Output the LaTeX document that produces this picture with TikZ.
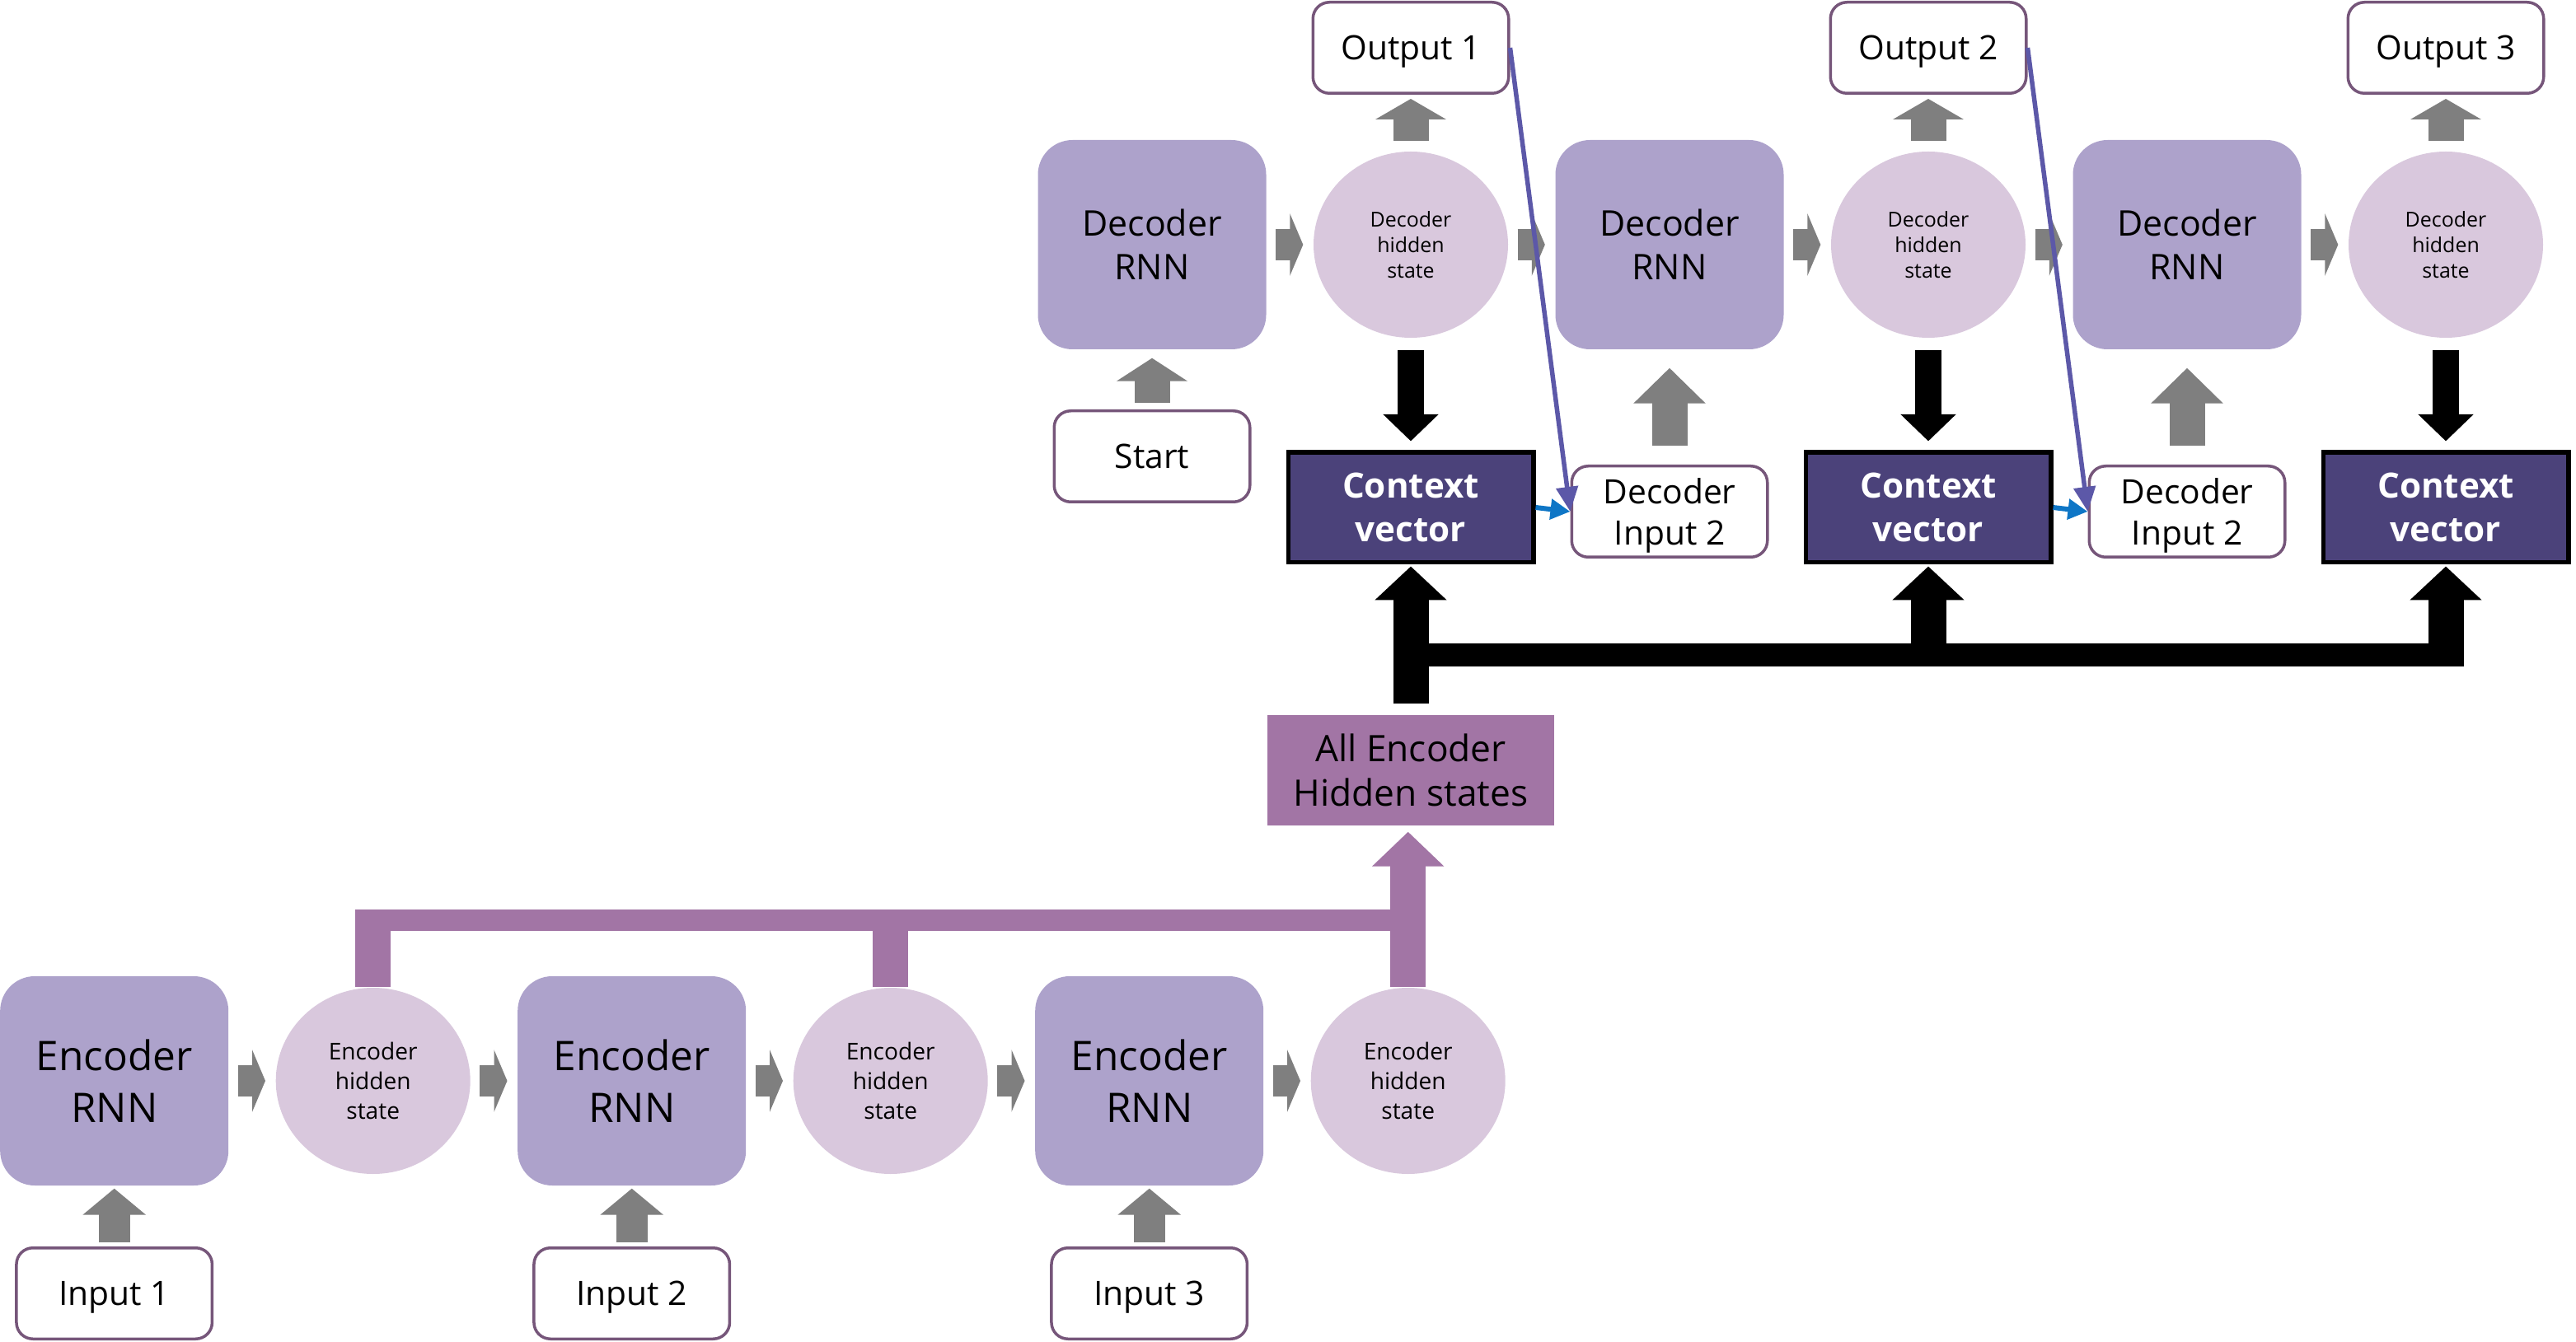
\documentclass[tikz,border=0pt]{standalone}
\usepackage{fontspec}
\setmainfont{Open Sans}
\usetikzlibrary{positioning, arrows.meta, shapes.geometric}
\usepackage{xcolor}

\definecolor{rnnfill}{RGB}{173,162,203}
\definecolor{hidfill}{RGB}{217,200,221}
\definecolor{boxline}{RGB}{118,86,122}
\definecolor{poolfill}{RGB}{162,117,165}
\definecolor{ctxfill}{RGB}{75,66,122}
\definecolor{arrowgray}{RGB}{127,127,127}
\definecolor{feedline}{RGB}{92,88,168}
\definecolor{ctxblue}{RGB}{14,118,198}

\begin{document}
\begin{tikzpicture}
\tikzset{
node distance=3.14cm, % spacing between two cells of one row
rnn/.style={rectangle, rounded corners=0.42cm, fill=rnnfill, minimum width=2.77cm, minimum height=2.54cm, align=center}, % encoder / decoder cells
enctext/.style={font=\fontsize{14.1}{17.9}\selectfont},
dectext/.style={font=\fontsize{12.2}{15.2}\selectfont},
hidden/.style={ellipse, fill=hidfill, minimum width=2.36cm, minimum height=2.26cm, inner sep=0pt, align=center}, % hidden states
enchtext/.style={font=\fontsize{8}{10.2}\selectfont},
dechtext/.style={font=\fontsize{7.1}{8.8}\selectfont},
io/.style={rectangle, rounded corners=0.2cm, draw=boxline, line width=0.035cm, fill=white, minimum width=2.375cm, minimum height=1.105cm, text depth=0pt, align=center, font=\fontsize{11.6}{14.3}\selectfont}, % inputs and outputs
ctx/.style={rectangle, draw=black, line width=0.054cm, fill=ctxfill, text=white, minimum width=2.976cm, minimum height=1.336cm, align=center, font=\fontsize{12}{15.2}\selectfont\bfseries}, % context vectors
pool/.style={rectangle, fill=poolfill, minimum width=3.48cm, minimum height=1.34cm, align=center, font=\fontsize{12.6}{15.4}\selectfont},
grayright/.style={color=arrowgray, line width=0.385cm, -{Triangle[length=0.16cm, width=0.75cm]}, shorten <=0.11cm, shorten >=0.12cm},
inarrow/.style={color=arrowgray, line width=0.38cm, -{Triangle[length=0.32cm, width=0.75cm]}, shorten <=0.05cm, shorten >=0.03cm},
uparrow/.style={color=arrowgray, line width=0.43cm, -{Triangle[length=#1, width=0.85cm]}},
downblack/.style={color=black, line width=0.325cm, -{Triangle[length=0.326cm, width=0.654cm]}, shorten <=0.14cm, shorten >=0.11cm},
ctxbus/.style={color=black, line width=0.43cm, -{Triangle[length=0.41cm, width=0.85cm]}},
busline/.style={color=black, line width=0.27cm},
encbus/.style={color=poolfill, line width=0.433cm, -{Triangle[length=0.42cm, width=0.85cm]}},
encbar/.style={color=poolfill, line width=0.267cm},
encstub/.style={color=poolfill, line width=0.427cm},
feed/.style={color=feedline, line width=0.055cm, -{Triangle[length=0.3cm, width=0.26cm]}},
ctxlink/.style={color=ctxblue, line width=0.06cm, -{Triangle[length=0.24cm, width=0.24cm]}},
}
\useasboundingbox (0,0) rectangle (31.26,-16.29);

	% encoder row
	\node[rnn, enctext] (enc1) at (1.387,-13.12) {Encoder\\RNN};
	\node[hidden, enchtext, right of=enc1] (ench1) {Encoder\\hidden\\state};
	\node[rnn, enctext, right of=ench1] (enc2) {Encoder\\RNN};
	\node[hidden, enchtext, right of=enc2] (ench2) {Encoder\\hidden\\state};
	\node[rnn, enctext, right of=ench2] (enc3) {Encoder\\RNN};
	\node[hidden, enchtext, right of=enc3] (ench3) {Encoder\\hidden\\state};
	\node[io, below of=enc1, node distance=2.58cm] (in1) {Input 1};
	\node[io, below of=enc2, node distance=2.58cm] (in2) {Input 2};
	\node[io, below of=enc3, node distance=2.58cm] (in3) {Input 3};

	% decoder row
	\node[rnn, dectext] (dec1) at (13.98,-2.97) {Decoder\\RNN};
	\node[hidden, dechtext, right of=dec1] (dech1) {Decoder\\hidden\\state};
	\node[rnn, dectext, right of=dech1] (dec2) {Decoder\\RNN};
	\node[hidden, dechtext, right of=dec2] (dech2) {Decoder\\hidden\\state};
	\node[rnn, dectext, right of=dech2] (dec3) {Decoder\\RNN};
	\node[hidden, dechtext, right of=dec3] (dech3) {Decoder\\hidden\\state};
	\node[io, above of=dech1, node distance=2.39cm] (out1) {Output 1};
	\node[io, above of=dech2, node distance=2.39cm] (out2) {Output 2};
	\node[io, above of=dech3, node distance=2.39cm] (out3) {Output 3};
	\node[io, below of=dec1, node distance=2.57cm] (start) {Start};
	\node[io, below of=dec2, node distance=3.24cm] (din1) {Decoder\\Input 2};
	\node[io, below of=dec3, node distance=3.24cm] (din2) {Decoder\\Input 2};
	\node[ctx, below of=dech1, node distance=3.19cm] (cv1) {Context\\vector};
	\node[ctx, below of=dech2, node distance=3.19cm] (cv2) {Context\\vector};
	\node[ctx, below of=dech3, node distance=3.19cm] (cv3) {Context\\vector};
	\node[pool, below of=cv1, node distance=3.19cm] (all) {All Encoder\\Hidden states};

	\draw[grayright] (enc1) edge (ench1)
	(ench1) edge (enc2)
	(enc2) edge (ench2)
	(ench2) edge (enc3)
	(enc3) edge (ench3)
	(dec1) edge (dech1)
	(dech1) edge (dec2)
	(dec2) edge (dech2)
	(dech2) edge (dec3)
	(dec3) edge (dech3);
	\draw[inarrow] (in1) edge (enc1) (in2) edge (enc2) (in3) edge (enc3);
	\draw[uparrow=0.25cm, shorten <=0.12cm, shorten >=0.05cm] (dech1) edge (out1) (dech2) edge (out2) (dech3) edge (out3);
	\draw[uparrow=0.28cm, shorten <=0.08cm, shorten >=0.10cm] (start) edge (dec1);
	\draw[uparrow=0.43cm, shorten <=0.23cm, shorten >=0.22cm] (din1) edge (dec2) (din2) edge (dec3);
	\draw[downblack] (dech1) edge (cv1) (dech2) edge (cv2) (dech3) edge (cv3);

	% all encoder states collected
	\coordinate (ebus) at ([yshift=0.812cm]ench1.north);
	\draw[encbar] ([xshift=-0.2135cm]ebus) -- (ebus -| ench3.north);
	\draw[encstub] (ench1.north) -- ([yshift=0.133cm]ebus)
	(ench2.north) -- ([yshift=0.133cm]ebus -| ench2.north);
	\draw[encbus, shorten >=0.07cm] (ench3.north) -- (ench3.north |- all.south);

	% context bus
	\coordinate (bus) at ([yshift=-1.095cm]cv1.south);
	\draw[busline] (bus) -- ([xshift=0.215cm]bus -| cv3.south);
	\draw[ctxbus, shorten <=0.13cm, shorten >=0.02cm] (all) -- (cv1);
	\draw[ctxbus, shorten >=0.02cm] (bus -| cv2.south) -- (cv2);
	\draw[ctxbus, shorten >=0.02cm] (bus -| cv3.south) -- (cv3);

	% feeding the next decoder step
	\draw[ctxlink] (cv1.east) -- (din1.west);
	\draw[ctxlink] (cv2.east) -- (din2.west);
	\draw[feed] (out1.east) -- (din1.west);
	\draw[feed] (out2.east) -- (din2.west);
\end{tikzpicture}
\end{document}
